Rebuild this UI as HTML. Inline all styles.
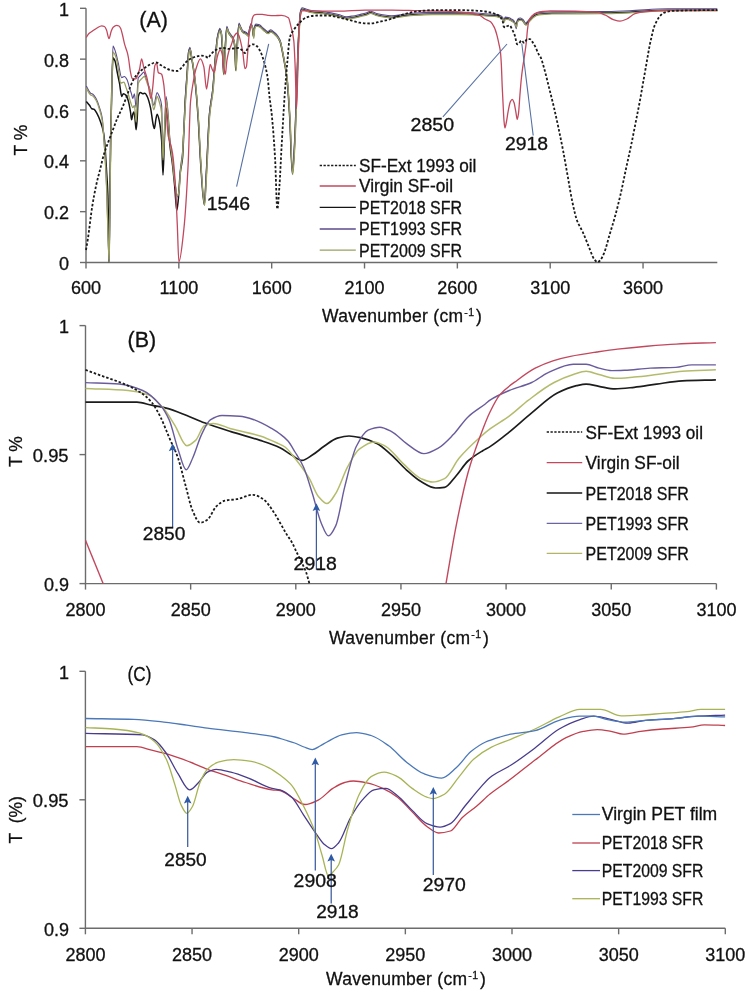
<!DOCTYPE html>
<html><head><meta charset="utf-8"><style>
html,body{margin:0;padding:0;background:#fff;overflow:hidden;}
svg{display:block;will-change:transform;}
text{font-family:"Liberation Sans",sans-serif;stroke:#111;stroke-width:0.3px;}
</style></head><body>
<svg width="749" height="993" viewBox="0 0 749 993" font-family="Liberation Sans, sans-serif">
<rect width="749" height="993" fill="#fff"/>
<path d="M86,8.3 V262.5 H717.3" fill="none" stroke="#6c6c6c" stroke-width="1.4"/>
<path d="M80,8.3 H86" stroke="#6c6c6c" stroke-width="1.4"/>
<path d="M80,59.14 H86" stroke="#6c6c6c" stroke-width="1.4"/>
<path d="M80,109.97999999999999 H86" stroke="#6c6c6c" stroke-width="1.4"/>
<path d="M80,160.82 H86" stroke="#6c6c6c" stroke-width="1.4"/>
<path d="M80,211.66 H86" stroke="#6c6c6c" stroke-width="1.4"/>
<path d="M80,262.5 H86" stroke="#6c6c6c" stroke-width="1.4"/>
<path d="M86.0,262.5 V268.5" stroke="#6c6c6c" stroke-width="1.4"/>
<path d="M178.84,262.5 V268.5" stroke="#6c6c6c" stroke-width="1.4"/>
<path d="M271.68,262.5 V268.5" stroke="#6c6c6c" stroke-width="1.4"/>
<path d="M364.52,262.5 V268.5" stroke="#6c6c6c" stroke-width="1.4"/>
<path d="M457.36,262.5 V268.5" stroke="#6c6c6c" stroke-width="1.4"/>
<path d="M550.2,262.5 V268.5" stroke="#6c6c6c" stroke-width="1.4"/>
<path d="M643.04,262.5 V268.5" stroke="#6c6c6c" stroke-width="1.4"/>
<text x="69" y="15.9" font-size="18" text-anchor="end" fill="#111" >1</text>
<text x="69" y="66.74" font-size="18" text-anchor="end" fill="#111" >0.8</text>
<text x="69" y="117.57999999999998" font-size="18" text-anchor="end" fill="#111" >0.6</text>
<text x="69" y="168.42" font-size="18" text-anchor="end" fill="#111" >0.4</text>
<text x="69" y="219.26" font-size="18" text-anchor="end" fill="#111" >0.2</text>
<text x="69" y="270.1" font-size="18" text-anchor="end" fill="#111" >0</text>
<text x="86.0" y="293.9" font-size="18" text-anchor="middle" fill="#111" >600</text>
<text x="178.84" y="293.9" font-size="18" text-anchor="middle" fill="#111" >1100</text>
<text x="271.68" y="293.9" font-size="18" text-anchor="middle" fill="#111" >1600</text>
<text x="364.52" y="293.9" font-size="18" text-anchor="middle" fill="#111" >2100</text>
<text x="457.36" y="293.9" font-size="18" text-anchor="middle" fill="#111" >2600</text>
<text x="550.2" y="293.9" font-size="18" text-anchor="middle" fill="#111" >3100</text>
<text x="643.04" y="293.9" font-size="18" text-anchor="middle" fill="#111" >3600</text>
<text x="322" y="321.6" font-size="17.5" fill="#111" letter-spacing="0.28">Wavenumber (cm<tspan font-size="10.5" dy="-5.7" dx="0.8" letter-spacing="0.6">-1</tspan><tspan dy="5.7" dx="1.2">)</tspan></text>
<text transform="translate(27.4,155.4) rotate(-90)" font-size="17.5" fill="#111">T %</text>
<text x="139.3" y="27.3" font-size="21.5" text-anchor="start" fill="#111" >(A)</text>
<path d="M86.30,101.50 C87.37,102.77 88.43,103.89 89.50,105.30 C90.27,106.32 91.03,108.40 91.80,108.70 C92.53,108.99 93.27,108.92 94.00,109.20 C95.10,109.61 96.20,112.17 97.30,114.20 C98.40,116.23 99.50,118.87 100.60,122.00 C101.53,124.66 102.47,127.20 103.40,131.90 C103.77,133.75 104.13,136.49 104.50,140.00 C105.17,146.37 105.83,159.07 106.50,170.00 C106.97,177.65 107.43,181.82 107.90,195.00 C108.27,205.35 108.63,262.00 109.00,262.00 C109.27,262.00 109.53,220.33 109.80,200.00 C110.07,179.67 110.33,154.92 110.60,140.00 C111.07,113.90 111.53,93.45 112.00,80.00 C112.33,70.39 112.67,57.70 113.00,57.70 C113.67,57.70 114.33,59.36 115.00,61.00 C115.73,62.81 116.47,68.48 117.20,72.10 C117.97,75.88 118.73,79.08 119.50,83.20 C120.23,87.14 120.97,96.50 121.70,96.50 C122.23,96.50 122.77,93.70 123.30,93.70 C124.23,93.70 125.17,94.47 126.10,95.40 C126.83,96.13 127.57,98.45 128.30,100.90 C129.03,103.35 129.77,107.59 130.50,112.00 C130.87,114.20 131.23,119.80 131.60,119.80 C132.00,119.80 132.40,115.31 132.80,114.20 C133.17,113.18 133.53,112.00 133.90,112.00 C134.27,112.00 134.63,115.84 135.00,118.60 C135.37,121.36 135.73,129.70 136.10,129.70 C136.47,129.70 136.83,123.53 137.20,118.60 C137.57,113.67 137.93,97.82 138.30,96.50 C139.03,93.87 139.77,92.60 140.50,92.60 C141.23,92.60 141.97,93.70 142.70,93.70 C143.43,93.70 144.17,93.20 144.90,93.20 C145.67,93.20 146.43,94.99 147.20,96.50 C148.30,98.66 149.40,102.73 150.50,107.60 C151.43,111.73 152.37,121.69 153.30,125.30 C153.67,126.72 154.03,128.60 154.40,128.60 C154.93,128.60 155.47,121.03 156.00,118.60 C156.40,116.77 156.80,114.20 157.20,114.20 C157.90,114.20 158.60,117.69 159.30,120.90 C160.07,124.41 160.83,130.04 161.60,140.00 C162.07,146.06 162.53,175.00 163.00,175.00 C163.47,175.00 163.93,150.07 164.40,140.00 C164.97,127.77 165.53,108.00 166.10,108.00 C166.73,108.00 167.37,114.55 168.00,120.00 C168.60,125.17 169.20,138.18 169.80,144.10 C170.73,153.31 171.67,157.19 172.60,165.30 C173.30,171.39 174.00,178.91 174.70,186.40 C175.40,193.89 176.10,210.40 176.80,210.40 C177.27,210.40 177.73,204.74 178.20,200.50 C178.90,194.15 179.60,178.39 180.30,172.30 C181.03,165.92 181.77,165.62 182.50,158.20 C182.97,153.48 183.43,139.88 183.90,130.00 C184.30,121.53 184.70,110.45 185.10,103.30 C185.77,91.39 186.43,83.77 187.10,74.30 C187.63,66.73 188.17,54.31 188.70,52.00 C189.10,50.27 189.50,48.80 189.90,48.80 C190.47,48.80 191.03,54.41 191.60,57.70 C192.70,64.09 193.80,70.50 194.90,79.90 C196.00,89.30 197.10,102.86 198.20,118.60 C199.07,131.00 199.93,153.15 200.80,165.30 C201.97,181.66 203.13,204.80 204.30,204.80 C205.00,204.80 205.70,184.10 206.40,172.30 C207.43,154.89 208.47,125.14 209.50,114.20 C210.60,102.55 211.70,100.35 212.80,90.00 C213.57,82.79 214.33,69.53 215.10,61.10 C215.90,52.31 216.70,41.75 217.50,37.70 C218.27,33.82 219.03,29.80 219.80,29.80 C220.27,29.80 220.73,31.18 221.20,33.00 C221.67,34.82 222.13,43.76 222.60,51.70 C222.93,57.37 223.27,74.20 223.60,74.20 C224.07,74.20 224.53,58.50 225.00,51.70 C225.60,42.96 226.20,27.90 226.80,27.90 C227.43,27.90 228.07,31.80 228.70,33.00 C229.47,34.45 230.23,35.22 231.00,36.30 C231.80,37.42 232.60,37.75 233.40,39.60 C233.87,40.68 234.33,42.75 234.80,47.10 C235.10,49.90 235.40,70.40 235.70,70.40 C236.17,70.40 236.63,53.61 237.10,47.10 C237.73,38.26 238.37,24.60 239.00,24.60 C239.60,24.60 240.20,27.18 240.80,28.40 C241.43,29.68 242.07,31.62 242.70,32.10 C243.33,32.58 243.97,32.68 244.60,33.00 C245.20,33.31 245.80,33.58 246.40,34.00 C247.03,34.44 247.67,35.80 248.30,35.80 C248.77,35.80 249.23,31.00 249.70,29.30 C250.17,27.60 250.63,25.10 251.10,25.10 C251.57,25.10 252.03,26.63 252.50,28.40 C252.83,29.67 253.17,36.80 253.50,36.80 C253.80,36.80 254.10,29.44 254.40,28.40 C254.87,26.79 255.33,25.60 255.80,25.60 C256.73,25.60 257.67,25.78 258.60,26.00 C259.23,26.15 259.87,26.56 260.50,27.00 C261.10,27.41 261.70,28.24 262.30,28.80 C263.23,29.67 264.17,30.51 265.10,31.20 C266.03,31.89 266.97,33.00 267.90,33.00 C268.83,33.00 269.77,31.20 270.70,31.20 C271.97,31.20 273.23,32.92 274.50,34.00 C275.43,34.80 276.37,35.62 277.30,36.80 C278.20,37.94 279.10,39.19 280.00,41.40 C280.97,43.77 281.93,49.50 282.90,54.40 C284.27,61.33 285.63,67.03 287.00,78.80 C287.90,86.55 288.80,101.67 289.70,116.90 C290.60,132.13 291.50,174.00 292.40,174.00 C293.13,174.00 293.87,157.24 294.60,144.10 C295.23,132.75 295.87,112.37 296.50,95.20 C297.13,78.03 297.77,52.23 298.40,40.80 C299.13,27.57 299.87,14.69 300.60,12.20 C301.07,10.62 301.53,9.30 302.00,9.30 C303.33,9.30 304.67,10.12 306.00,10.50 C307.90,11.03 309.80,11.70 311.70,12.00 C316.13,12.71 320.57,12.80 325.00,13.40 C329.47,14.01 333.93,14.97 338.40,16.00 C341.07,16.62 343.73,18.20 346.40,18.20 C348.60,18.20 350.80,17.81 353.00,17.50 C355.27,17.18 357.53,16.52 359.80,16.00 C361.87,15.52 363.93,15.12 366.00,14.50 C367.47,14.06 368.93,12.80 370.40,12.80 C372.20,12.80 374.00,14.18 375.80,14.70 C377.57,15.21 379.33,15.69 381.10,16.00 C384.67,16.63 388.23,17.40 391.80,17.40 C395.37,17.40 398.93,16.45 402.50,16.00 C406.07,15.55 409.63,14.94 413.20,14.70 C419.43,14.29 425.67,13.90 431.90,13.90 C440.80,13.90 449.70,13.90 458.60,13.90 C463.33,13.90 468.07,14.04 472.80,14.20 C476.87,14.34 480.93,15.07 485.00,15.30 C488.10,15.48 491.20,15.46 494.30,15.70 C495.87,15.82 497.43,16.20 499.00,16.70 C500.27,17.11 501.53,17.56 502.80,19.00 C503.10,19.34 503.40,21.40 503.70,21.40 C504.17,21.40 504.63,18.60 505.10,18.60 C506.20,18.60 507.30,18.78 508.40,19.00 C509.33,19.19 510.27,19.86 511.20,20.40 C512.13,20.94 513.07,21.64 514.00,22.30 C514.77,22.84 515.53,24.00 516.30,24.00 C516.70,24.00 517.10,21.13 517.50,20.80 C518.50,19.97 519.50,19.50 520.50,19.50 C521.43,19.50 522.37,20.55 523.30,21.40 C524.10,22.13 524.90,24.60 525.70,24.60 C526.47,24.60 527.23,23.11 528.00,22.30 C529.23,21.00 530.47,19.18 531.70,18.10 C533.27,16.73 534.83,15.27 536.40,14.80 C537.97,14.33 539.53,14.06 541.10,13.90 C544.73,13.53 548.37,13.22 552.00,13.20 C568.80,13.12 585.60,13.17 602.40,13.10 C611.47,13.06 620.53,12.56 629.60,12.20 C642.40,11.70 655.20,10.30 668.00,10.30 C684.43,10.30 700.87,10.30 717.30,10.30" fill="none" stroke="#141414" stroke-width="1.5" stroke-linejoin="round"/>
<path d="M86.30,86.00 C87.73,88.40 89.17,92.19 90.60,93.20 C91.37,93.74 92.13,93.78 92.90,94.30 C94.00,95.05 95.10,96.74 96.20,98.70 C97.30,100.66 98.40,104.06 99.50,107.60 C100.43,110.60 101.37,112.76 102.30,118.60 C102.87,122.14 103.43,131.70 104.00,140.00 C104.83,152.21 105.67,165.37 106.50,185.00 C107.07,198.35 107.63,224.44 108.20,240.00 C108.50,248.24 108.80,262.00 109.10,262.00 C109.40,262.00 109.70,221.56 110.00,200.00 C110.27,180.83 110.53,156.22 110.80,140.00 C111.20,115.68 111.60,96.07 112.00,80.00 C112.33,66.61 112.67,46.10 113.00,46.10 C113.87,46.10 114.73,49.62 115.60,52.20 C116.50,54.88 117.40,59.46 118.30,63.20 C119.43,67.90 120.57,77.60 121.70,77.60 C122.60,77.60 123.50,76.50 124.40,76.50 C125.33,76.50 126.27,78.18 127.20,79.90 C127.93,81.25 128.67,85.21 129.40,87.60 C130.13,89.99 130.87,91.84 131.60,94.30 C132.00,95.64 132.40,98.70 132.80,98.70 C133.33,98.70 133.87,93.70 134.40,93.70 C134.97,93.70 135.53,107.60 136.10,107.60 C136.83,107.60 137.57,78.85 138.30,77.60 C138.67,76.98 139.03,76.87 139.40,76.50 C140.13,75.77 140.87,75.03 141.60,74.30 C142.33,73.57 143.07,72.10 143.80,72.10 C144.57,72.10 145.33,76.66 146.10,78.80 C147.20,81.87 148.30,84.02 149.40,87.60 C150.13,89.99 150.87,93.55 151.60,96.50 C152.33,99.45 153.07,105.30 153.80,105.30 C154.90,105.30 156.00,92.60 157.10,92.60 C157.83,92.60 158.57,94.73 159.30,96.50 C160.07,98.35 160.83,99.60 161.60,105.30 C162.07,108.77 162.53,158.00 163.00,158.00 C163.50,158.00 164.00,139.86 164.50,130.00 C165.03,119.48 165.57,96.50 166.10,96.50 C166.73,96.50 167.37,105.38 168.00,112.00 C168.60,118.27 169.20,131.76 169.80,138.00 C170.73,147.71 171.67,151.93 172.60,160.00 C173.30,166.06 174.00,174.75 174.70,180.00 C175.63,186.99 176.57,197.00 177.50,197.00 C178.00,197.00 178.50,193.54 179.00,190.00 C179.50,186.46 180.00,173.25 180.50,168.00 C181.17,161.00 181.83,159.43 182.50,152.00 C182.97,146.80 183.43,136.99 183.90,128.00 C184.30,120.29 184.70,108.89 185.10,101.80 C185.77,89.98 186.43,82.27 187.10,72.80 C187.63,65.23 188.17,52.81 188.70,50.50 C189.10,48.77 189.50,47.30 189.90,47.30 C190.47,47.30 191.03,52.91 191.60,56.20 C192.70,62.59 193.80,69.00 194.90,78.40 C196.00,87.80 197.10,101.36 198.20,117.10 C199.07,129.50 199.93,151.65 200.80,163.80 C201.97,180.16 203.13,203.30 204.30,203.30 C205.00,203.30 205.70,182.60 206.40,170.80 C207.43,153.39 208.47,123.64 209.50,112.70 C210.60,101.05 211.70,98.85 212.80,88.50 C213.57,81.29 214.33,68.03 215.10,59.60 C215.90,50.81 216.70,40.25 217.50,36.20 C218.27,32.32 219.03,28.30 219.80,28.30 C220.27,28.30 220.73,29.68 221.20,31.50 C221.67,33.32 222.13,42.67 222.60,50.20 C222.93,55.58 223.27,70.00 223.60,70.00 C224.07,70.00 224.53,56.59 225.00,50.20 C225.60,41.99 226.20,26.40 226.80,26.40 C227.43,26.40 228.07,30.30 228.70,31.50 C229.47,32.95 230.23,33.72 231.00,34.80 C231.80,35.92 232.60,36.25 233.40,38.10 C233.87,39.18 234.33,41.37 234.80,45.60 C235.10,48.32 235.40,66.00 235.70,66.00 C236.17,66.00 236.63,51.73 237.10,45.60 C237.73,37.28 238.37,23.10 239.00,23.10 C239.60,23.10 240.20,25.68 240.80,26.90 C241.43,28.18 242.07,30.12 242.70,30.60 C243.33,31.08 243.97,31.18 244.60,31.50 C245.20,31.81 245.80,32.08 246.40,32.50 C247.03,32.94 247.67,34.30 248.30,34.30 C248.77,34.30 249.23,29.50 249.70,27.80 C250.17,26.10 250.63,23.60 251.10,23.60 C251.57,23.60 252.03,25.13 252.50,26.90 C252.83,28.17 253.17,35.30 253.50,35.30 C253.80,35.30 254.10,27.94 254.40,26.90 C254.87,25.29 255.33,24.10 255.80,24.10 C256.73,24.10 257.67,24.28 258.60,24.50 C259.23,24.65 259.87,25.06 260.50,25.50 C261.10,25.91 261.70,26.74 262.30,27.30 C263.23,28.17 264.17,29.01 265.10,29.70 C266.03,30.39 266.97,31.50 267.90,31.50 C268.83,31.50 269.77,29.70 270.70,29.70 C271.97,29.70 273.23,31.42 274.50,32.50 C275.43,33.30 276.37,34.12 277.30,35.30 C278.20,36.44 279.10,37.69 280.00,39.90 C280.97,42.27 281.93,48.00 282.90,52.90 C284.27,59.83 285.63,65.53 287.00,77.30 C287.90,85.05 288.80,100.17 289.70,115.40 C290.60,130.63 291.50,172.50 292.40,172.50 C293.13,172.50 293.87,155.74 294.60,142.60 C295.23,131.25 295.87,110.87 296.50,93.70 C297.13,76.53 297.77,50.73 298.40,39.30 C299.13,26.07 299.87,13.19 300.60,10.70 C301.07,9.12 301.53,7.80 302.00,7.80 C303.33,7.80 304.67,8.62 306.00,9.00 C307.90,9.53 309.80,10.20 311.70,10.50 C316.13,11.21 320.57,11.30 325.00,11.90 C329.47,12.51 333.93,13.47 338.40,14.50 C341.07,15.12 343.73,16.70 346.40,16.70 C348.60,16.70 350.80,16.31 353.00,16.00 C355.27,15.68 357.53,15.02 359.80,14.50 C361.87,14.02 363.93,13.62 366.00,13.00 C367.47,12.56 368.93,11.30 370.40,11.30 C372.20,11.30 374.00,12.68 375.80,13.20 C377.57,13.71 379.33,14.19 381.10,14.50 C384.67,15.13 388.23,15.90 391.80,15.90 C395.37,15.90 398.93,14.95 402.50,14.50 C406.07,14.05 409.63,13.44 413.20,13.20 C419.43,12.79 425.67,12.40 431.90,12.40 C440.80,12.40 449.70,12.40 458.60,12.40 C463.33,12.40 468.07,12.54 472.80,12.70 C476.87,12.84 480.93,13.57 485.00,13.80 C488.10,13.98 491.20,13.96 494.30,14.20 C495.87,14.32 497.43,14.70 499.00,15.20 C500.27,15.61 501.53,15.83 502.80,17.50 C503.10,17.90 503.40,22.80 503.70,22.80 C504.17,22.80 504.63,17.10 505.10,17.10 C506.20,17.10 507.30,17.28 508.40,17.50 C509.33,17.69 510.27,18.36 511.20,18.90 C512.13,19.44 513.07,19.72 514.00,20.80 C514.77,21.69 515.53,28.80 516.30,28.80 C516.70,28.80 517.10,19.68 517.50,19.30 C518.50,18.36 519.50,18.00 520.50,18.00 C521.43,18.00 522.37,19.05 523.30,19.90 C524.10,20.63 524.90,23.10 525.70,23.10 C526.47,23.10 527.23,21.61 528.00,20.80 C529.23,19.50 530.47,17.68 531.70,16.60 C533.27,15.23 534.83,13.77 536.40,13.30 C537.97,12.83 539.53,12.56 541.10,12.40 C544.73,12.03 548.37,11.72 552.00,11.70 C568.80,11.62 585.60,11.67 602.40,11.60 C611.47,11.56 620.53,11.06 629.60,10.70 C642.40,10.20 655.20,8.80 668.00,8.80 C684.43,8.80 700.87,8.80 717.30,8.80" fill="none" stroke="#5a4a8c" stroke-width="1.1" stroke-linejoin="round"/>
<path d="M86.30,88.00 C87.73,90.33 89.17,94.07 90.60,95.00 C91.37,95.50 92.13,95.51 92.90,96.00 C94.00,96.70 95.10,98.50 96.20,100.50 C97.30,102.50 98.40,105.87 99.50,109.50 C100.43,112.58 101.37,115.17 102.30,121.00 C102.87,124.54 103.43,132.30 104.00,140.00 C104.83,151.32 105.67,165.37 106.50,185.00 C107.07,198.35 107.63,225.40 108.20,240.00 C108.53,248.59 108.87,262.00 109.20,262.00 C109.47,262.00 109.73,220.33 110.00,200.00 C110.27,179.67 110.53,156.22 110.80,140.00 C111.20,115.68 111.60,94.17 112.00,80.00 C112.33,68.19 112.67,52.20 113.00,52.20 C114.03,52.20 115.07,54.92 116.10,57.70 C116.90,59.85 117.70,65.47 118.50,70.00 C119.20,73.96 119.90,83.20 120.60,83.20 C121.70,83.20 122.80,82.10 123.90,82.10 C124.63,82.10 125.37,85.59 126.10,87.60 C126.83,89.61 127.57,91.91 128.30,94.30 C129.03,96.69 129.77,99.89 130.50,102.00 C131.27,104.20 132.03,107.60 132.80,107.60 C133.33,107.60 133.87,105.30 134.40,105.30 C134.97,105.30 135.53,122.00 136.10,122.00 C136.83,122.00 137.57,85.13 138.30,83.20 C139.40,80.31 140.50,79.91 141.60,78.80 C142.53,77.86 143.47,76.50 144.40,76.50 C145.33,76.50 146.27,80.85 147.20,83.20 C148.30,85.97 149.40,88.07 150.50,92.00 C151.60,95.93 152.70,109.80 153.80,109.80 C154.90,109.80 156.00,96.50 157.10,96.50 C157.83,96.50 158.57,99.59 159.30,102.00 C160.07,104.52 160.83,106.21 161.60,113.10 C162.07,117.29 162.53,160.00 163.00,160.00 C163.50,160.00 164.00,139.68 164.50,130.00 C165.03,119.67 165.57,100.00 166.10,100.00 C166.73,100.00 167.37,108.61 168.00,115.00 C168.60,121.06 169.20,133.85 169.80,140.00 C170.73,149.56 171.67,153.93 172.60,162.00 C173.30,168.06 174.00,177.61 174.70,182.00 C175.73,188.48 176.77,196.00 177.80,196.00 C178.27,196.00 178.73,193.08 179.20,190.00 C179.67,186.92 180.13,174.82 180.60,170.00 C181.23,163.46 181.87,162.16 182.50,155.00 C182.97,149.72 183.43,137.22 183.90,129.00 C184.40,120.19 184.90,111.69 185.40,103.90 C186.07,93.51 186.73,84.37 187.40,74.90 C187.93,67.33 188.47,54.91 189.00,52.60 C189.40,50.87 189.80,49.40 190.20,49.40 C190.77,49.40 191.33,55.01 191.90,58.30 C193.00,64.69 194.10,71.10 195.20,80.50 C196.30,89.90 197.40,103.46 198.50,119.20 C199.37,131.60 200.23,153.75 201.10,165.90 C202.27,182.26 203.43,205.40 204.60,205.40 C205.30,205.40 206.00,184.70 206.70,172.90 C207.73,155.49 208.77,125.74 209.80,114.80 C210.90,103.15 212.00,100.95 213.10,90.60 C213.87,83.39 214.63,70.13 215.40,61.70 C216.20,52.91 217.00,42.35 217.80,38.30 C218.57,34.42 219.33,30.40 220.10,30.40 C220.57,30.40 221.03,31.78 221.50,33.60 C221.97,35.42 222.43,44.36 222.90,52.30 C223.23,57.97 223.57,74.80 223.90,74.80 C224.37,74.80 224.83,59.10 225.30,52.30 C225.90,43.56 226.50,28.50 227.10,28.50 C227.73,28.50 228.37,32.40 229.00,33.60 C229.77,35.05 230.53,35.82 231.30,36.90 C232.10,38.02 232.90,38.35 233.70,40.20 C234.17,41.28 234.63,43.35 235.10,47.70 C235.40,50.50 235.70,71.00 236.00,71.00 C236.47,71.00 236.93,54.21 237.40,47.70 C238.03,38.86 238.67,25.20 239.30,25.20 C239.90,25.20 240.50,27.78 241.10,29.00 C241.73,30.28 242.37,32.22 243.00,32.70 C243.63,33.18 244.27,33.28 244.90,33.60 C245.50,33.91 246.10,34.18 246.70,34.60 C247.33,35.04 247.97,36.40 248.60,36.40 C249.07,36.40 249.53,31.60 250.00,29.90 C250.47,28.20 250.93,25.70 251.40,25.70 C251.87,25.70 252.33,27.18 252.80,29.00 C253.13,30.30 253.47,38.50 253.80,38.50 C254.10,38.50 254.40,30.06 254.70,29.00 C255.17,27.35 255.63,26.20 256.10,26.20 C257.03,26.20 257.97,26.38 258.90,26.60 C259.53,26.75 260.17,27.16 260.80,27.60 C261.40,28.01 262.00,28.84 262.60,29.40 C263.53,30.27 264.47,31.11 265.40,31.80 C266.33,32.49 267.27,33.60 268.20,33.60 C269.13,33.60 270.07,31.80 271.00,31.80 C272.27,31.80 273.53,33.52 274.80,34.60 C275.73,35.40 276.67,36.22 277.60,37.40 C278.50,38.54 279.40,39.79 280.30,42.00 C281.27,44.37 282.23,50.10 283.20,55.00 C284.57,61.93 285.93,67.63 287.30,79.40 C288.20,87.15 289.10,102.27 290.00,117.50 C290.90,132.73 291.80,174.60 292.70,174.60 C293.43,174.60 294.17,157.84 294.90,144.70 C295.53,133.35 296.17,112.97 296.80,95.80 C297.43,78.63 298.07,52.83 298.70,41.40 C299.43,28.17 300.17,15.29 300.90,12.80 C301.37,11.22 301.83,9.90 302.30,9.90 C303.63,9.90 304.97,10.72 306.30,11.10 C308.20,11.63 310.10,12.30 312.00,12.60 C316.43,13.31 320.87,13.40 325.30,14.00 C329.77,14.61 334.23,15.57 338.70,16.60 C341.37,17.22 344.03,18.80 346.70,18.80 C348.90,18.80 351.10,18.41 353.30,18.10 C355.57,17.78 357.83,17.12 360.10,16.60 C362.17,16.12 364.23,15.72 366.30,15.10 C367.77,14.66 369.23,13.40 370.70,13.40 C372.50,13.40 374.30,14.78 376.10,15.30 C377.87,15.81 379.63,16.29 381.40,16.60 C384.97,17.23 388.53,18.00 392.10,18.00 C395.67,18.00 399.23,17.05 402.80,16.60 C406.37,16.15 409.93,15.54 413.50,15.30 C419.73,14.89 425.97,14.50 432.20,14.50 C441.10,14.50 450.00,14.50 458.90,14.50 C463.63,14.50 468.37,14.64 473.10,14.80 C477.17,14.94 481.23,15.67 485.30,15.90 C488.40,16.08 491.50,16.06 494.60,16.30 C496.17,16.42 497.73,16.80 499.30,17.30 C500.57,17.71 501.83,18.10 503.10,19.60 C503.40,19.96 503.70,22.50 504.00,22.50 C504.47,22.50 504.93,19.20 505.40,19.20 C506.50,19.20 507.60,19.38 508.70,19.60 C509.63,19.79 510.57,20.46 511.50,21.00 C512.43,21.54 513.37,21.97 514.30,22.90 C515.07,23.66 515.83,27.00 516.60,27.00 C517.00,27.00 517.40,21.76 517.80,21.40 C518.80,20.50 519.80,20.10 520.80,20.10 C521.73,20.10 522.67,21.15 523.60,22.00 C524.40,22.73 525.20,25.20 526.00,25.20 C526.77,25.20 527.53,23.71 528.30,22.90 C529.53,21.60 530.77,19.78 532.00,18.70 C533.57,17.33 535.13,15.87 536.70,15.40 C538.27,14.93 539.83,14.66 541.40,14.50 C545.03,14.13 548.67,13.82 552.30,13.80 C569.10,13.72 585.90,13.77 602.70,13.70 C611.77,13.66 620.83,13.16 629.90,12.80 C642.70,12.30 655.50,10.90 668.30,10.90 C684.73,10.90 701.17,10.90 717.60,10.90" fill="none" stroke="#9aa060" stroke-width="1.3" stroke-linejoin="round"/>
<path d="M86.30,37.50 C87.03,36.33 87.77,34.76 88.50,34.00 C89.73,32.73 90.97,32.17 92.20,31.30 C93.80,30.17 95.40,28.89 97.00,28.00 C98.57,27.13 100.13,25.80 101.70,25.80 C102.60,25.80 103.50,26.08 104.40,26.50 C105.10,26.82 105.80,28.44 106.50,30.00 C107.33,31.86 108.17,38.70 109.00,38.70 C109.73,38.70 110.47,33.16 111.20,31.30 C111.87,29.61 112.53,27.82 113.20,27.20 C114.33,26.15 115.47,25.30 116.60,25.30 C117.40,25.30 118.20,25.60 119.00,26.00 C119.57,26.29 120.13,27.32 120.70,28.50 C121.30,29.75 121.90,32.65 122.50,35.00 C123.27,38.00 124.03,42.16 124.80,44.90 C125.60,47.76 126.40,49.27 127.20,52.20 C127.57,53.54 127.93,55.09 128.30,57.00 C129.03,60.82 129.77,68.58 130.50,72.10 C131.07,74.82 131.63,78.39 132.20,78.50 C133.37,78.72 134.53,78.80 135.70,78.80 C136.60,78.80 137.50,75.42 138.40,73.00 C138.80,71.93 139.20,70.58 139.60,69.00 C140.27,66.36 140.93,58.80 141.60,58.80 C142.33,58.80 143.07,65.03 143.80,67.70 C144.93,71.83 146.07,73.90 147.20,78.80 C147.93,81.97 148.67,88.42 149.40,92.00 C149.93,94.61 150.47,98.70 151.00,98.70 C151.57,98.70 152.13,92.04 152.70,87.60 C153.43,81.85 154.17,67.19 154.90,65.50 C155.47,64.19 156.03,63.20 156.60,63.20 C157.17,63.20 157.73,71.88 158.30,72.50 C159.40,73.70 160.50,73.17 161.60,74.30 C162.37,75.09 163.13,79.96 163.90,85.40 C164.13,87.06 164.37,90.23 164.60,92.80 C165.20,99.42 165.80,106.70 166.40,113.90 C167.00,121.10 167.60,132.67 168.20,136.00 C168.97,140.25 169.73,140.98 170.50,144.00 C171.17,146.62 171.83,148.86 172.50,153.00 C173.40,158.59 174.30,169.15 175.20,182.00 C175.90,191.99 176.60,209.77 177.30,225.00 C177.83,236.60 178.37,261.90 178.90,261.90 C180.57,261.90 182.23,244.32 183.90,228.80 C185.30,215.76 186.70,192.89 188.10,165.30 C188.90,149.53 189.70,111.31 190.50,102.00 C191.23,93.46 191.97,89.89 192.70,85.40 C193.80,78.67 194.90,72.31 196.00,68.80 C197.47,64.12 198.93,58.80 200.40,58.80 C201.53,58.80 202.67,62.44 203.80,66.60 C204.70,69.91 205.60,89.00 206.50,89.00 C207.07,89.00 207.63,82.49 208.20,78.80 C208.87,74.46 209.53,64.50 210.20,64.50 C210.90,64.50 211.60,68.23 212.30,69.50 C212.93,70.65 213.57,72.30 214.20,72.30 C214.67,72.30 215.13,67.93 215.60,65.70 C216.37,62.03 217.13,56.62 217.90,54.50 C218.70,52.29 219.50,49.90 220.30,49.90 C220.90,49.90 221.50,51.65 222.10,53.60 C222.73,55.65 223.37,65.29 224.00,68.60 C224.47,71.04 224.93,74.20 225.40,74.20 C225.87,74.20 226.33,64.17 226.80,61.10 C227.43,56.94 228.07,53.93 228.70,51.70 C229.63,48.42 230.57,46.94 231.50,44.30 C232.43,41.66 233.37,37.20 234.30,35.80 C235.23,34.40 236.17,33.00 237.10,33.00 C237.73,33.00 238.37,34.46 239.00,35.80 C239.60,37.07 240.20,39.89 240.80,42.40 C241.43,45.05 242.07,48.00 242.70,51.70 C243.47,56.18 244.23,68.60 245.00,68.60 C245.47,68.60 245.93,67.82 246.40,66.70 C246.90,65.50 247.40,55.71 247.90,49.90 C248.37,44.48 248.83,36.13 249.30,33.00 C249.77,29.87 250.23,28.46 250.70,26.50 C251.00,25.24 251.30,24.47 251.60,23.00 C251.83,21.86 252.07,19.26 252.30,18.50 C252.83,16.75 253.37,15.65 253.90,15.30 C254.83,14.70 255.77,14.30 256.70,14.30 C258.57,14.30 260.43,14.30 262.30,14.30 C264.17,14.30 266.03,15.11 267.90,15.30 C269.80,15.49 271.70,15.70 273.60,15.70 C276.27,15.70 278.93,15.30 281.60,15.30 C283.87,15.30 286.13,16.05 288.40,17.70 C289.30,18.35 290.20,23.47 291.10,27.20 C292.00,30.93 292.90,33.12 293.80,40.80 C294.27,44.78 294.73,56.77 295.20,68.00 C295.63,78.43 296.07,108.80 296.50,108.80 C296.97,108.80 297.43,82.11 297.90,68.00 C298.33,54.90 298.77,31.85 299.20,27.20 C300.13,17.20 301.07,11.09 302.00,10.90 C303.33,10.62 304.67,10.50 306.00,10.50 C307.90,10.50 309.80,10.65 311.70,10.70 C320.60,10.93 329.50,11.20 338.40,11.20 C347.30,11.20 356.20,10.10 365.10,10.10 C374.00,10.10 382.90,10.10 391.80,10.10 C400.70,10.10 409.60,10.52 418.50,10.70 C427.40,10.88 436.30,10.93 445.20,11.20 C451.80,11.40 458.40,11.90 465.00,12.50 C467.60,12.74 470.20,13.04 472.80,13.50 C475.20,13.92 477.60,14.52 480.00,15.50 C481.67,16.18 483.33,18.02 485.00,19.00 C486.87,20.09 488.73,20.35 490.60,21.80 C491.83,22.76 493.07,24.88 494.30,27.40 C495.23,29.31 496.17,32.41 497.10,35.80 C497.73,38.10 498.37,41.22 499.00,44.30 C499.47,46.57 499.93,48.06 500.40,51.70 C500.70,54.04 501.00,58.40 501.30,63.60 C501.60,68.80 501.90,79.50 502.20,86.20 C502.50,92.90 502.80,98.56 503.10,104.30 C503.40,110.04 503.70,117.36 504.00,120.70 C504.30,124.04 504.60,127.90 504.90,127.90 C505.37,127.90 505.83,124.68 506.30,122.50 C506.90,119.70 507.50,114.66 508.10,111.60 C508.87,107.69 509.63,103.03 510.40,101.60 C511.00,100.48 511.60,99.40 512.20,99.40 C512.80,99.40 513.40,100.96 514.00,102.50 C514.60,104.04 515.20,108.43 515.80,111.60 C516.27,114.06 516.73,119.30 517.20,119.30 C517.63,119.30 518.07,116.29 518.50,113.40 C518.97,110.28 519.43,101.02 519.90,95.30 C520.37,89.58 520.83,83.54 521.30,79.00 C521.73,74.78 522.17,71.26 522.60,68.10 C523.07,64.70 523.53,62.23 524.00,59.10 C524.43,56.19 524.87,53.16 525.30,50.00 C525.63,47.57 525.97,45.37 526.30,42.40 C526.70,38.83 527.10,32.42 527.50,29.30 C527.97,25.66 528.43,22.21 528.90,20.90 C529.83,18.29 530.77,17.16 531.70,16.20 C533.27,14.59 534.83,13.43 536.40,12.90 C538.57,12.16 540.73,11.78 542.90,11.50 C545.40,11.17 547.90,10.80 550.40,10.80 C565.93,10.80 581.47,11.13 597.00,12.20 C599.70,12.39 602.40,13.85 605.10,15.00 C607.83,16.17 610.57,18.70 613.30,19.60 C615.53,20.34 617.77,21.20 620.00,21.20 C622.27,21.20 624.53,19.97 626.80,19.00 C629.53,17.83 632.27,14.37 635.00,13.60 C638.63,12.57 642.27,12.06 645.90,11.70 C653.27,10.98 660.63,10.30 668.00,10.30 C684.43,10.30 700.87,10.30 717.30,10.30" fill="none" stroke="#c2485e" stroke-width="1.3" stroke-linejoin="round"/>
<path d="M86.00,250.00 C86.67,246.00 87.33,242.38 88.00,238.00 C89.40,228.80 90.80,215.38 92.20,206.60 C93.47,198.66 94.73,191.89 96.00,186.00 C97.43,179.34 98.87,174.33 100.30,168.60 C101.53,163.67 102.77,158.06 104.00,154.00 C105.50,149.06 107.00,145.46 108.50,141.40 C109.57,138.51 110.63,135.80 111.70,133.00 C113.53,128.19 115.37,122.94 117.20,118.60 C119.07,114.18 120.93,110.93 122.80,106.50 C124.63,102.14 126.47,96.56 128.30,92.00 C130.17,87.35 132.03,81.80 133.90,78.80 C135.73,75.86 137.57,73.87 139.40,72.10 C141.23,70.33 143.07,68.97 144.90,67.70 C146.77,66.41 148.63,65.12 150.50,64.30 C152.33,63.49 154.17,62.40 156.00,62.40 C157.50,62.40 159.00,64.14 160.50,65.00 C162.37,66.07 164.23,67.32 166.10,68.20 C167.93,69.06 169.77,70.09 171.60,70.40 C173.47,70.72 175.33,71.00 177.20,71.00 C178.67,71.00 180.13,69.08 181.60,67.70 C183.07,66.32 184.53,63.47 186.00,62.10 C187.50,60.70 189.00,59.58 190.50,58.80 C192.33,57.84 194.17,57.03 196.00,56.60 C197.83,56.17 199.67,55.70 201.50,55.70 C203.00,55.70 204.50,56.11 206.00,56.60 C206.73,56.84 207.47,58.00 208.20,58.00 C208.80,58.00 209.40,56.21 210.00,55.50 C211.57,53.63 213.13,51.84 214.70,50.80 C216.23,49.78 217.77,48.77 219.30,48.50 C220.87,48.22 222.43,48.00 224.00,48.00 C225.57,48.00 227.13,48.90 228.70,48.90 C230.27,48.90 231.83,48.65 233.40,48.50 C234.93,48.35 236.47,48.00 238.00,48.00 C239.27,48.00 240.53,49.05 241.80,49.90 C242.87,50.62 243.93,53.10 245.00,53.10 C245.80,53.10 246.60,50.11 247.40,48.90 C248.33,47.49 249.27,45.68 250.20,45.20 C251.13,44.72 252.07,44.30 253.00,44.30 C254.23,44.30 255.47,45.20 256.70,46.10 C257.97,47.02 259.23,49.26 260.50,51.70 C261.43,53.50 262.37,56.31 263.30,59.20 C264.23,62.09 265.17,65.25 266.10,69.50 C266.70,72.23 267.30,75.22 267.90,79.80 C268.33,83.11 268.77,89.88 269.20,94.00 C270.10,102.57 271.00,107.02 271.90,116.10 C272.97,126.86 274.03,140.63 275.10,158.90 C275.83,171.46 276.57,209.00 277.30,209.00 C278.03,209.00 278.77,195.09 279.50,185.00 C280.17,175.83 280.83,159.91 281.50,148.20 C282.57,129.46 283.63,109.95 284.70,94.80 C285.63,81.55 286.57,70.27 287.50,60.00 C288.23,51.93 288.97,40.72 289.70,38.10 C291.07,33.22 292.43,32.04 293.80,29.90 C295.33,27.49 296.87,25.57 298.40,24.00 C301.07,21.27 303.73,18.21 306.40,17.40 C309.93,16.33 313.47,15.50 317.00,15.50 C320.57,15.50 324.13,15.50 327.70,15.50 C331.27,15.50 334.83,16.67 338.40,17.40 C341.97,18.13 345.53,19.12 349.10,20.00 C352.67,20.88 356.23,22.29 359.80,22.70 C363.33,23.11 366.87,23.50 370.40,23.50 C373.97,23.50 377.53,22.19 381.10,21.40 C384.67,20.61 388.23,19.77 391.80,18.70 C395.37,17.63 398.93,15.70 402.50,14.70 C407.83,13.20 413.17,11.76 418.50,11.20 C423.83,10.64 429.17,10.10 434.50,10.10 C442.53,10.10 450.57,10.10 458.60,10.10 C463.33,10.10 468.07,10.30 472.80,10.50 C476.87,10.67 480.93,11.02 485.00,11.50 C486.87,11.72 488.73,12.08 490.60,12.50 C492.17,12.85 493.73,13.32 495.30,13.90 C496.53,14.36 497.77,14.78 499.00,15.70 C500.27,16.64 501.53,18.31 502.80,21.80 C503.10,22.63 503.40,26.21 503.70,26.50 C504.33,27.11 504.97,27.40 505.60,27.40 C506.20,27.40 506.80,26.17 507.40,26.00 C508.20,25.77 509.00,25.60 509.80,25.60 C510.57,25.60 511.33,27.85 512.10,29.30 C513.03,31.06 513.97,33.12 514.90,35.80 C515.67,38.00 516.43,44.30 517.20,44.30 C517.83,44.30 518.47,43.76 519.10,43.30 C519.87,42.74 520.63,40.50 521.40,40.50 C522.37,40.50 523.33,42.90 524.30,42.90 C525.23,42.90 526.17,39.10 527.10,39.10 C528.03,39.10 528.97,39.10 529.90,39.10 C530.83,39.10 531.77,41.11 532.70,42.40 C533.63,43.69 534.57,45.28 535.50,47.10 C536.43,48.92 537.37,51.88 538.30,53.60 C539.03,54.95 539.77,55.52 540.50,57.00 C541.87,59.75 543.23,65.29 544.60,70.10 C546.17,75.61 547.73,82.35 549.30,88.60 C550.83,94.72 552.37,100.65 553.90,107.20 C555.43,113.75 556.97,120.76 558.50,128.00 C560.07,135.39 561.63,143.02 563.20,151.20 C564.73,159.21 566.27,168.20 567.80,176.70 C569.33,185.20 570.87,195.14 572.40,202.20 C573.97,209.42 575.53,216.50 577.10,220.70 C579.03,225.89 580.97,228.05 582.90,232.30 C584.80,236.48 586.70,241.71 588.60,246.20 C590.53,250.77 592.47,257.17 594.40,259.50 C595.43,260.75 596.47,262.20 597.50,262.20 C598.33,262.20 599.17,261.29 600.00,260.50 C601.37,259.20 602.73,256.26 604.10,253.10 C605.90,248.93 607.70,241.03 609.50,235.00 C611.30,228.97 613.10,223.44 614.90,216.90 C616.73,210.24 618.57,202.97 620.40,195.10 C622.20,187.37 624.00,178.17 625.80,169.80 C627.63,161.27 629.47,153.24 631.30,144.40 C633.10,135.73 634.90,126.37 636.70,117.20 C637.83,111.42 638.97,105.84 640.10,99.70 C641.10,94.28 642.10,88.27 643.10,82.60 C643.93,77.88 644.77,73.25 645.60,68.50 C646.30,64.51 647.00,60.36 647.70,56.40 C648.37,52.63 649.03,48.63 649.70,45.30 C650.37,41.97 651.03,39.04 651.70,36.20 C652.37,33.36 653.03,30.24 653.70,28.20 C654.53,25.65 655.37,23.76 656.20,22.10 C657.20,20.11 658.20,18.35 659.20,17.10 C660.57,15.39 661.93,13.84 663.30,13.10 C664.63,12.38 665.97,11.90 667.30,11.60 C668.30,11.37 669.30,11.19 670.30,11.10 C673.53,10.82 676.77,10.69 680.00,10.60 C692.43,10.26 704.87,10.20 717.30,10.00" fill="none" stroke="#1a1a1a" stroke-width="1.8" stroke-linejoin="round" stroke-dasharray="2.5,1.9"/>
<path d="M236.6,186.6 L268.7,43.9" stroke="#5470a4" stroke-width="1.1"/>
<path d="M442.9,116.9 L507,44" stroke="#5470a4" stroke-width="1.1"/>
<path d="M533.2,135.5 L521.8,43.5" stroke="#5470a4" stroke-width="1.1"/>
<text x="206.8" y="210.1" font-size="18" text-anchor="start" fill="#111"  textLength="43.3" lengthAdjust="spacingAndGlyphs">1546</text>
<text x="410.5" y="130.5" font-size="18" text-anchor="start" fill="#111"  textLength="43.6" lengthAdjust="spacingAndGlyphs">2850</text>
<text x="504.9" y="149.5" font-size="18" text-anchor="start" fill="#111"  textLength="43.0" lengthAdjust="spacingAndGlyphs">2918</text>
<path d="M319.7,165.4 H355.8" stroke="#1a1a1a" stroke-width="1.5" stroke-dasharray="2.3,1.5"/>
<text x="359" y="171.70000000000002" font-size="17.5" text-anchor="start" fill="#111"  textLength="117.4" lengthAdjust="spacingAndGlyphs">SF-Ext 1993 oil</text>
<path d="M319.7,186.0 H355.8" stroke="#c2485e" stroke-width="1.3"/>
<text x="359" y="192.3" font-size="17.5" text-anchor="start" fill="#111"  textLength="94.0" lengthAdjust="spacingAndGlyphs">Virgin SF-oil</text>
<path d="M319.7,207.4 H355.8" stroke="#141414" stroke-width="1.3"/>
<text x="359" y="213.70000000000002" font-size="17.5" text-anchor="start" fill="#111"  textLength="103.1" lengthAdjust="spacingAndGlyphs">PET2018 SFR</text>
<path d="M319.7,229.0 H355.8" stroke="#5a4a8c" stroke-width="1.3"/>
<text x="359" y="235.3" font-size="17.5" text-anchor="start" fill="#111"  textLength="103.1" lengthAdjust="spacingAndGlyphs">PET1993 SFR</text>
<path d="M319.7,250.2 H355.8" stroke="#9aa060" stroke-width="1.3"/>
<text x="359" y="256.5" font-size="17.5" text-anchor="start" fill="#111"  textLength="103.1" lengthAdjust="spacingAndGlyphs">PET2009 SFR</text>
<path d="M85.5,325.6 V583.6 H716.4" fill="none" stroke="#6c6c6c" stroke-width="1.4"/>
<path d="M79.5,325.6 H85.5" stroke="#6c6c6c" stroke-width="1.4"/>
<path d="M79.5,454.6 H85.5" stroke="#6c6c6c" stroke-width="1.4"/>
<path d="M79.5,583.6 H85.5" stroke="#6c6c6c" stroke-width="1.4"/>
<path d="M85.5,583.6 V589.6" stroke="#6c6c6c" stroke-width="1.4"/>
<path d="M190.65,583.6 V589.6" stroke="#6c6c6c" stroke-width="1.4"/>
<path d="M295.8,583.6 V589.6" stroke="#6c6c6c" stroke-width="1.4"/>
<path d="M400.95000000000005,583.6 V589.6" stroke="#6c6c6c" stroke-width="1.4"/>
<path d="M506.1,583.6 V589.6" stroke="#6c6c6c" stroke-width="1.4"/>
<path d="M611.25,583.6 V589.6" stroke="#6c6c6c" stroke-width="1.4"/>
<path d="M716.4000000000001,583.6 V589.6" stroke="#6c6c6c" stroke-width="1.4"/>
<text x="69" y="333.20000000000005" font-size="18" text-anchor="end" fill="#111" >1</text>
<text x="68.6" y="462.20000000000005" font-size="18" text-anchor="end" fill="#111"  textLength="35.8" lengthAdjust="spacingAndGlyphs">0.95</text>
<text x="69" y="591.2" font-size="18" text-anchor="end" fill="#111" >0.9</text>
<text x="85.5" y="616.2" font-size="18" text-anchor="middle" fill="#111" >2800</text>
<text x="190.65" y="616.2" font-size="18" text-anchor="middle" fill="#111" >2850</text>
<text x="295.8" y="616.2" font-size="18" text-anchor="middle" fill="#111" >2900</text>
<text x="400.95000000000005" y="616.2" font-size="18" text-anchor="middle" fill="#111" >2950</text>
<text x="506.1" y="616.2" font-size="18" text-anchor="middle" fill="#111" >3000</text>
<text x="611.25" y="616.2" font-size="18" text-anchor="middle" fill="#111" >3050</text>
<text x="716.4000000000001" y="616.2" font-size="18" text-anchor="middle" fill="#111" >3100</text>
<text x="329" y="643.9" font-size="17.5" fill="#111" letter-spacing="0.28">Wavenumber (cm<tspan font-size="10.5" dy="-5.7" dx="0.8" letter-spacing="0.6">-1</tspan><tspan dy="5.7" dx="1.2">)</tspan></text>
<text transform="translate(22.2,467) rotate(-90)" font-size="17.5" fill="#111">T %</text>
<text x="127.6" y="347.2" font-size="21.5" text-anchor="start" fill="#111" >(B)</text>
<path d="M85.50,402.20 C102.63,402.20 119.77,402.20 136.90,402.20 C141.80,402.20 146.70,404.21 151.60,405.20 C156.47,406.18 161.33,406.88 166.20,408.10 C173.07,409.83 179.93,412.85 186.80,415.50 C192.67,417.76 198.53,420.62 204.40,422.80 C213.23,426.08 222.07,428.81 230.90,431.60 C240.67,434.68 250.43,437.12 260.20,440.40 C266.80,442.61 273.40,444.65 280.00,447.80 C283.90,449.66 287.80,452.90 291.70,455.10 C295.13,457.03 298.57,460.40 302.00,460.40 C305.43,460.40 308.87,457.18 312.30,455.10 C316.23,452.71 320.17,448.97 324.10,446.30 C328.50,443.31 332.90,439.31 337.30,438.10 C341.20,437.03 345.10,436.00 349.00,436.00 C353.40,436.00 357.80,437.14 362.20,438.10 C367.10,439.17 372.00,440.97 376.90,443.40 C381.80,445.83 386.70,450.76 391.60,455.10 C396.50,459.44 401.40,465.44 406.30,469.80 C411.20,474.16 416.10,478.83 421.00,481.60 C425.90,484.37 430.80,488.00 435.70,488.00 C438.63,488.00 441.57,487.76 444.50,487.40 C448.40,486.92 452.30,480.03 456.20,475.70 C460.13,471.34 464.07,464.56 468.00,461.00 C472.90,456.56 477.80,453.72 482.70,450.70 C485.13,449.20 487.57,448.13 490.00,446.60 C496.40,442.57 502.80,437.22 509.20,432.10 C516.70,426.10 524.20,418.99 531.70,412.90 C540.23,405.97 548.77,397.42 557.30,393.10 C563.70,389.86 570.10,387.13 576.50,385.70 C579.70,384.99 582.90,384.10 586.10,384.10 C590.37,384.10 594.63,385.59 598.90,386.30 C604.27,387.19 609.63,388.90 615.00,388.90 C621.40,388.90 627.80,387.97 634.20,387.30 C641.67,386.52 649.13,385.10 656.60,384.10 C665.17,382.96 673.73,381.32 682.30,380.90 C693.50,380.35 704.70,380.23 715.90,379.90" fill="none" stroke="#1c1c1c" stroke-width="1.7" stroke-linejoin="round"/>
<path d="M85.50,388.40 C99.70,389.10 113.90,389.27 128.10,390.50 C134.93,391.09 141.77,392.45 148.60,394.90 C153.50,396.66 158.40,402.54 163.30,408.10 C167.20,412.53 171.10,419.48 175.00,425.70 C178.93,431.97 182.87,445.70 186.80,445.70 C189.73,445.70 192.67,443.00 195.60,440.40 C198.53,437.80 201.47,427.03 204.40,425.70 C207.33,424.37 210.27,423.40 213.20,423.40 C219.10,423.40 225.00,427.08 230.90,428.70 C240.67,431.38 250.43,432.89 260.20,436.00 C266.10,437.88 272.00,440.66 277.90,443.40 C280.27,444.50 282.63,445.37 285.00,447.00 C288.23,449.22 291.47,453.98 294.70,458.00 C299.60,464.10 304.50,470.40 309.40,478.60 C312.33,483.51 315.27,492.73 318.20,496.20 C321.13,499.67 324.07,503.60 327.00,503.60 C329.93,503.60 332.87,497.74 335.80,493.30 C339.73,487.35 343.67,474.00 347.60,466.90 C351.50,459.86 355.40,452.17 359.30,449.20 C364.20,445.46 369.10,441.90 374.00,441.90 C377.90,441.90 381.80,444.24 385.70,446.30 C391.60,449.42 397.50,458.54 403.40,463.90 C409.27,469.23 415.13,476.10 421.00,478.60 C424.90,480.27 428.80,482.10 432.70,482.10 C436.63,482.10 440.57,480.48 444.50,478.60 C449.40,476.26 454.30,463.77 459.20,458.00 C466.03,449.95 472.87,443.66 479.70,437.50 C483.13,434.41 486.57,431.47 490.00,428.90 C496.40,424.10 502.80,420.83 509.20,416.10 C515.63,411.35 522.07,404.96 528.50,400.10 C537.03,393.66 545.57,386.88 554.10,382.50 C560.50,379.22 566.90,376.47 573.30,374.50 C577.57,373.19 581.83,371.30 586.10,371.30 C590.37,371.30 594.63,373.46 598.90,374.50 C604.27,375.80 609.63,378.30 615.00,378.30 C621.40,378.30 627.80,377.54 634.20,377.00 C641.67,376.37 649.13,375.38 656.60,374.50 C665.17,373.49 673.73,371.90 682.30,371.30 C693.50,370.51 704.70,370.23 715.90,369.70" fill="none" stroke="#b4bc6c" stroke-width="1.5" stroke-linejoin="round"/>
<path d="M85.50,382.60 C96.73,383.07 107.97,383.15 119.20,384.00 C127.03,384.59 134.87,387.17 142.70,390.50 C148.60,393.01 154.50,398.40 160.40,405.20 C163.33,408.58 166.27,413.37 169.20,419.90 C172.13,426.43 175.07,440.81 178.00,449.20 C180.73,457.01 183.47,469.80 186.20,469.80 C188.37,469.80 190.53,462.63 192.70,458.00 C195.63,451.73 198.57,440.62 201.50,434.60 C204.43,428.58 207.37,421.76 210.30,419.90 C214.20,417.43 218.10,415.50 222.00,415.50 C227.90,415.50 233.80,415.84 239.70,416.30 C244.60,416.68 249.50,418.31 254.40,419.90 C260.27,421.81 266.13,425.30 272.00,428.70 C274.67,430.25 277.33,431.99 280.00,434.00 C282.67,436.01 285.33,437.98 288.00,441.00 C290.33,443.64 292.67,448.13 295.00,452.00 C297.83,456.70 300.67,460.72 303.50,467.00 C306.43,473.50 309.37,484.05 312.30,493.30 C315.23,502.55 318.17,515.94 321.10,522.70 C323.57,528.39 326.03,535.90 328.50,535.90 C330.93,535.90 333.37,530.70 335.80,525.60 C338.73,519.45 341.67,498.80 344.60,487.40 C348.53,472.12 352.47,454.09 356.40,446.30 C360.30,438.58 364.20,431.73 368.10,430.10 C372.03,428.46 375.97,427.20 379.90,427.20 C383.80,427.20 387.70,429.63 391.60,431.60 C396.50,434.08 401.40,440.09 406.30,443.40 C412.17,447.37 418.03,453.60 423.90,453.60 C428.80,453.60 433.70,450.49 438.60,447.80 C443.50,445.11 448.40,439.64 453.30,434.60 C458.20,429.56 463.10,421.46 468.00,416.90 C473.87,411.44 479.73,408.33 485.60,403.70 C487.07,402.54 488.53,401.06 490.00,400.10 C496.40,395.92 502.80,393.17 509.20,390.50 C516.70,387.37 524.20,385.90 531.70,382.50 C537.03,380.08 542.37,375.26 547.70,372.90 C556.23,369.12 564.77,364.20 573.30,364.20 C577.57,364.20 581.83,364.20 586.10,364.20 C590.37,364.20 594.63,367.09 598.90,368.10 C603.20,369.12 607.50,370.60 611.80,370.60 C616.07,370.60 620.33,370.45 624.60,370.30 C633.13,370.00 641.67,368.45 650.20,368.10 C658.73,367.75 667.27,367.82 675.80,367.40 C681.17,367.14 686.53,364.90 691.90,364.90 C699.90,364.90 707.90,364.90 715.90,364.90" fill="none" stroke="#6a5c9c" stroke-width="1.4" stroke-linejoin="round"/>
<path d="M85.50,540.30 L103.10,583.60" fill="none" stroke="#c2485e" stroke-width="1.4" stroke-linejoin="round"/>
<path d="M446.00,583.60 C449.40,564.27 452.80,542.69 456.20,525.60 C460.13,505.82 464.07,486.86 468.00,472.70 C471.90,458.66 475.80,448.07 479.70,437.50 C483.13,428.19 486.57,419.01 490.00,412.00 C493.33,405.19 496.67,398.47 500.00,394.60 C505.87,387.79 511.73,384.35 517.60,380.00 C523.47,375.65 529.33,371.22 535.20,368.20 C541.10,365.16 547.00,362.65 552.90,360.80 C558.77,358.96 564.63,357.59 570.50,356.40 C579.30,354.62 588.10,353.34 596.90,352.00 C603.77,350.96 610.63,349.90 617.50,349.10 C627.30,347.95 637.10,347.01 646.90,346.20 C656.67,345.39 666.43,344.59 676.20,344.10 C689.43,343.43 702.67,343.10 715.90,342.60" fill="none" stroke="#c2485e" stroke-width="1.4" stroke-linejoin="round"/>
<path d="M85.50,369.90 C90.87,371.87 96.23,373.85 101.60,375.80 C108.47,378.29 115.33,380.32 122.20,383.20 C128.07,385.66 133.93,388.22 139.80,392.00 C143.73,394.54 147.67,397.65 151.60,402.20 C154.53,405.59 157.47,411.18 160.40,416.90 C163.33,422.62 166.27,430.65 169.20,437.50 C172.13,444.35 175.07,449.62 178.00,458.00 C180.43,464.95 182.87,475.74 185.30,484.50 C187.77,493.38 190.23,505.42 192.70,510.90 C195.13,516.31 197.57,522.70 200.00,522.70 C202.47,522.70 204.93,521.25 207.40,519.70 C210.33,517.86 213.27,509.22 216.20,506.50 C219.13,503.78 222.07,501.22 225.00,500.60 C228.90,499.78 232.80,499.83 236.70,499.20 C242.10,498.32 247.50,494.80 252.90,494.80 C256.33,494.80 259.77,497.03 263.20,499.20 C267.10,501.66 271.00,508.11 274.90,513.90 C276.60,516.42 278.30,519.75 280.00,522.70 C282.23,526.58 284.47,530.78 286.70,534.40 C288.37,537.10 290.03,539.08 291.70,542.00 C293.47,545.10 295.23,549.40 297.00,553.00 C298.67,556.39 300.33,559.46 302.00,563.00 C303.33,565.83 304.67,568.36 306.00,572.00 C307.13,575.09 308.27,579.73 309.40,583.60" fill="none" stroke="#1a1a1a" stroke-width="1.8" stroke-linejoin="round" stroke-dasharray="2.5,1.9"/>
<path d="M172.6,527 V448.5" stroke="#3b5c9e" stroke-width="1.25"/>
<path d="M168.79999999999998,451.3 L172.6,443.5 L176.4,451.3 L172.6,449.7 Z" fill="#2f5aa6"/>
<path d="M316.4,569.7 V508.2" stroke="#3b5c9e" stroke-width="1.25"/>
<path d="M312.59999999999997,511.0 L316.4,503.2 L320.2,511.0 L316.4,509.4 Z" fill="#2f5aa6"/>
<text x="142.8" y="539.6" font-size="18" text-anchor="start" fill="#111"  textLength="42.6" lengthAdjust="spacingAndGlyphs">2850</text>
<text x="293.6" y="569.7" font-size="18" text-anchor="start" fill="#111"  textLength="43.3" lengthAdjust="spacingAndGlyphs">2918</text>
<path d="M546.7,432.0 H582.2" stroke="#1a1a1a" stroke-width="1.5" stroke-dasharray="2.3,1.5"/>
<text x="585.6" y="438.8" font-size="17.5" text-anchor="start" fill="#111"  textLength="117.4" lengthAdjust="spacingAndGlyphs">SF-Ext 1993 oil</text>
<path d="M546.7,462.6 H582.2" stroke="#c2485e" stroke-width="1.3"/>
<text x="585.6" y="469.40000000000003" font-size="17.5" text-anchor="start" fill="#111"  textLength="94.0" lengthAdjust="spacingAndGlyphs">Virgin SF-oil</text>
<path d="M546.7,493.0 H582.2" stroke="#141414" stroke-width="1.3"/>
<text x="585.6" y="499.8" font-size="17.5" text-anchor="start" fill="#111"  textLength="103.1" lengthAdjust="spacingAndGlyphs">PET2018 SFR</text>
<path d="M546.7,523.4 H582.2" stroke="#6a64a0" stroke-width="1.3"/>
<text x="585.6" y="530.1999999999999" font-size="17.5" text-anchor="start" fill="#111"  textLength="103.1" lengthAdjust="spacingAndGlyphs">PET1993 SFR</text>
<path d="M546.7,553.3 H582.2" stroke="#b4b468" stroke-width="1.3"/>
<text x="585.6" y="560.0999999999999" font-size="17.5" text-anchor="start" fill="#111"  textLength="103.1" lengthAdjust="spacingAndGlyphs">PET2009 SFR</text>
<path d="M85.4,671.3 V928.3 H725.3" fill="none" stroke="#6c6c6c" stroke-width="1.4"/>
<path d="M79.4,671.3 H85.4" stroke="#6c6c6c" stroke-width="1.4"/>
<path d="M79.4,799.8 H85.4" stroke="#6c6c6c" stroke-width="1.4"/>
<path d="M79.4,928.3 H85.4" stroke="#6c6c6c" stroke-width="1.4"/>
<path d="M85.4,928.3 V934.3" stroke="#6c6c6c" stroke-width="1.4"/>
<path d="M192.05,928.3 V934.3" stroke="#6c6c6c" stroke-width="1.4"/>
<path d="M298.70000000000005,928.3 V934.3" stroke="#6c6c6c" stroke-width="1.4"/>
<path d="M405.35,928.3 V934.3" stroke="#6c6c6c" stroke-width="1.4"/>
<path d="M512.0,928.3 V934.3" stroke="#6c6c6c" stroke-width="1.4"/>
<path d="M618.65,928.3 V934.3" stroke="#6c6c6c" stroke-width="1.4"/>
<path d="M725.3000000000001,928.3 V934.3" stroke="#6c6c6c" stroke-width="1.4"/>
<text x="69" y="678.9" font-size="18" text-anchor="end" fill="#111" >1</text>
<text x="68.6" y="807.4" font-size="18" text-anchor="end" fill="#111"  textLength="35.8" lengthAdjust="spacingAndGlyphs">0.95</text>
<text x="69" y="935.9" font-size="18" text-anchor="end" fill="#111" >0.9</text>
<text x="85.4" y="961.2" font-size="18" text-anchor="middle" fill="#111" >2800</text>
<text x="192.05" y="961.2" font-size="18" text-anchor="middle" fill="#111" >2850</text>
<text x="298.70000000000005" y="961.2" font-size="18" text-anchor="middle" fill="#111" >2900</text>
<text x="405.35" y="961.2" font-size="18" text-anchor="middle" fill="#111" >2950</text>
<text x="512.0" y="961.2" font-size="18" text-anchor="middle" fill="#111" >3000</text>
<text x="618.65" y="961.2" font-size="18" text-anchor="middle" fill="#111" >3050</text>
<text x="725.3000000000001" y="961.2" font-size="18" text-anchor="middle" fill="#111" >3100</text>
<text x="326" y="984.6" font-size="17.5" fill="#111" letter-spacing="0.28">Wavenumber (cm<tspan font-size="10.5" dy="-5.7" dx="0.8" letter-spacing="0.6">-1</tspan><tspan dy="5.7" dx="1.2">)</tspan></text>
<text transform="translate(22,843.4) rotate(-90)" font-size="17.5" fill="#111" xml:space="preserve">T  (%)</text>
<text x="127.6" y="681.2" font-size="21" text-anchor="start" fill="#111"  textLength="23.8" lengthAdjust="spacingAndGlyphs">(C)</text>
<path d="M85.50,746.70 C102.63,746.70 119.77,746.70 136.90,746.70 C141.80,746.70 146.70,749.01 151.60,750.20 C157.47,751.63 163.33,752.88 169.20,754.60 C176.03,756.60 182.87,759.27 189.70,761.90 C195.60,764.17 201.50,767.13 207.40,769.30 C213.27,771.46 219.13,773.08 225.00,775.10 C231.83,777.45 238.67,780.35 245.50,782.50 C254.33,785.28 263.17,788.73 272.00,789.80 C274.67,790.12 277.33,790.11 280.00,790.50 C283.90,791.07 287.80,795.01 291.70,797.20 C296.13,799.69 300.57,804.50 305.00,804.50 C309.40,804.50 313.80,802.15 318.20,800.10 C323.10,797.81 328.00,791.40 332.90,788.40 C336.80,786.01 340.70,783.47 344.60,782.50 C347.53,781.77 350.47,781.00 353.40,781.00 C358.30,781.00 363.20,782.10 368.10,783.10 C373.00,784.10 377.90,786.19 382.80,788.40 C387.70,790.61 392.60,793.53 397.50,797.20 C402.40,800.87 407.30,807.02 412.20,811.90 C417.10,816.78 422.00,823.05 426.90,826.50 C430.80,829.25 434.70,833.00 438.60,833.00 C442.53,833.00 446.47,832.16 450.40,831.00 C454.30,829.85 458.20,821.38 462.10,817.70 C467.00,813.08 471.90,810.16 476.80,806.00 C481.20,802.26 485.60,797.57 490.00,794.00 C496.90,788.41 503.80,784.27 510.70,779.10 C518.80,773.04 526.90,766.20 535.00,760.10 C545.37,752.30 555.73,742.41 566.10,737.60 C571.87,734.92 577.63,732.44 583.40,731.40 C588.00,730.57 592.60,729.70 597.20,729.70 C601.80,729.70 606.40,730.66 611.00,731.40 C615.03,732.05 619.07,734.20 623.10,734.20 C628.30,734.20 633.50,732.39 638.70,731.70 C646.77,730.62 654.83,729.67 662.90,729.00 C672.13,728.24 681.37,728.12 690.60,727.20 C695.20,726.74 699.80,724.80 704.40,724.80 C711.30,724.80 718.20,725.27 725.10,725.50" fill="none" stroke="#c04050" stroke-width="1.3" stroke-linejoin="round"/>
<path d="M85.50,733.40 C104.57,733.90 123.63,733.73 142.70,734.90 C146.63,735.14 150.57,737.48 154.50,739.90 C158.40,742.30 162.30,747.76 166.20,753.10 C170.13,758.49 174.07,767.65 178.00,773.70 C181.90,779.70 185.80,789.80 189.70,789.80 C192.67,789.80 195.63,785.36 198.60,782.50 C201.53,779.67 204.47,773.71 207.40,772.20 C210.33,770.69 213.27,769.30 216.20,769.30 C221.10,769.30 226.00,770.99 230.90,772.20 C236.77,773.65 242.63,775.89 248.50,778.10 C256.33,781.06 264.17,786.57 272.00,788.40 C274.67,789.02 277.33,789.09 280.00,789.80 C283.90,790.83 287.80,793.74 291.70,797.20 C295.63,800.69 299.57,808.91 303.50,814.80 C307.40,820.64 311.30,826.92 315.20,832.40 C318.17,836.57 321.13,841.77 324.10,844.20 C326.53,846.19 328.97,848.60 331.40,848.60 C333.83,848.60 336.27,845.45 338.70,842.70 C342.63,838.25 346.57,824.62 350.50,817.70 C354.40,810.84 358.30,804.41 362.20,800.10 C366.13,795.75 370.07,790.63 374.00,789.80 C377.90,788.98 381.80,788.40 385.70,788.40 C389.63,788.40 393.57,792.72 397.50,795.70 C402.40,799.41 407.30,805.76 412.20,810.40 C417.10,815.04 422.00,821.61 426.90,823.60 C431.30,825.38 435.70,827.10 440.10,827.10 C443.53,827.10 446.97,825.36 450.40,823.60 C455.27,821.10 460.13,811.85 465.00,806.00 C469.90,800.11 474.80,793.91 479.70,788.40 C483.13,784.54 486.57,780.08 490.00,777.40 C496.90,772.01 503.80,769.72 510.70,765.30 C518.80,760.11 526.90,754.05 535.00,748.00 C543.07,741.98 551.13,733.61 559.20,729.00 C566.10,725.06 573.00,721.76 579.90,719.60 C584.50,718.16 589.10,716.20 593.70,716.20 C598.33,716.20 602.97,717.71 607.60,718.60 C614.50,719.92 621.40,723.10 628.30,723.10 C634.07,723.10 639.83,720.83 645.60,720.30 C654.83,719.45 664.07,719.30 673.30,718.60 C681.37,717.99 689.43,716.66 697.50,716.20 C706.70,715.67 715.90,715.47 725.10,715.10" fill="none" stroke="#4a3c8c" stroke-width="1.3" stroke-linejoin="round"/>
<path d="M85.50,727.60 C94.80,728.07 104.10,728.29 113.40,729.00 C122.20,729.67 131.00,730.83 139.80,733.10 C144.70,734.36 149.60,737.31 154.50,741.40 C158.40,744.66 162.30,751.10 166.20,759.00 C169.17,765.01 172.13,776.11 175.10,785.40 C177.03,791.46 178.97,800.53 180.90,804.50 C182.87,808.54 184.83,813.30 186.80,813.30 C188.77,813.30 190.73,809.46 192.70,806.00 C195.13,801.72 197.57,788.09 200.00,782.50 C202.47,776.83 204.93,771.69 207.40,769.30 C211.30,765.52 215.20,762.90 219.10,761.90 C224.00,760.64 228.90,759.60 233.80,759.60 C239.67,759.60 245.53,760.40 251.40,761.30 C257.27,762.20 263.13,764.95 269.00,767.80 C272.67,769.58 276.33,772.33 280.00,775.10 C283.90,778.05 287.80,780.84 291.70,785.40 C295.63,790.00 299.57,798.26 303.50,806.00 C307.40,813.68 311.30,821.74 315.20,832.40 C317.47,838.60 319.73,847.57 322.00,855.00 C324.17,862.10 326.33,876.00 328.50,876.00 C330.00,876.00 331.50,873.56 333.00,872.00 C334.90,870.02 336.80,868.24 338.70,864.70 C341.67,859.17 344.63,839.72 347.60,829.50 C351.50,816.07 355.40,801.99 359.30,794.20 C363.23,786.34 367.17,778.77 371.10,776.60 C375.50,774.17 379.90,772.20 384.30,772.20 C388.70,772.20 393.10,774.54 397.50,776.60 C402.40,778.89 407.30,785.04 412.20,788.40 C417.10,791.76 422.00,795.61 426.90,797.20 C428.83,797.83 430.77,798.60 432.70,798.60 C436.63,798.60 440.57,796.39 444.50,794.20 C449.40,791.47 454.30,782.47 459.20,776.60 C464.10,770.73 469.00,763.25 473.90,759.00 C479.77,753.91 485.63,750.20 491.50,747.20 C497.90,743.92 504.30,741.97 510.70,739.30 C518.80,735.92 526.90,732.72 535.00,729.00 C543.07,725.30 551.13,720.30 559.20,716.90 C566.10,713.99 573.00,709.30 579.90,709.30 C586.80,709.30 593.70,709.30 600.60,709.30 C607.53,709.30 614.47,715.80 621.40,715.80 C627.17,715.80 632.93,715.39 638.70,715.10 C646.77,714.69 654.83,713.97 662.90,713.40 C670.97,712.83 679.03,712.54 687.10,711.70 C691.70,711.22 696.30,709.30 700.90,709.30 C708.97,709.30 717.03,709.30 725.10,709.30" fill="none" stroke="#a8b454" stroke-width="1.3" stroke-linejoin="round"/>
<path d="M85.50,718.50 C101.63,718.77 117.77,718.83 133.90,719.30 C144.67,719.62 155.43,721.08 166.20,722.30 C173.07,723.08 179.93,724.22 186.80,725.20 C193.67,726.18 200.53,727.31 207.40,728.20 C220.10,729.85 232.80,730.94 245.50,732.60 C255.30,733.88 265.10,734.94 274.90,737.00 C278.27,737.71 281.63,738.98 285.00,740.00 C288.23,740.98 291.47,741.84 294.70,743.00 C297.80,744.12 300.90,745.88 304.00,747.00 C306.77,748.00 309.53,749.60 312.30,749.60 C314.87,749.60 317.43,747.32 320.00,746.00 C322.33,744.80 324.67,743.23 327.00,742.00 C331.90,739.41 336.80,736.06 341.70,734.90 C346.60,733.74 351.50,732.60 356.40,732.60 C361.30,732.60 366.20,734.08 371.10,735.50 C376.97,737.21 382.83,741.61 388.70,745.80 C394.57,749.99 400.43,757.36 406.30,761.90 C412.17,766.44 418.03,771.57 423.90,773.70 C429.80,775.84 435.70,778.10 441.60,778.10 C446.47,778.10 451.33,771.99 456.20,767.80 C461.10,763.59 466.00,755.62 470.90,751.60 C475.80,747.58 480.70,744.22 485.60,742.00 C490.40,739.83 495.20,738.42 500.00,737.00 C503.57,735.94 507.13,734.89 510.70,734.20 C518.80,732.64 526.90,732.45 535.00,730.70 C543.07,728.96 551.13,722.47 559.20,720.30 C566.10,718.45 573.00,716.20 579.90,716.20 C584.50,716.20 589.10,716.20 593.70,716.20 C598.33,716.20 602.97,718.75 607.60,719.60 C613.37,720.66 619.13,722.10 624.90,722.10 C631.80,722.10 638.70,720.80 645.60,720.30 C654.83,719.63 664.07,719.30 673.30,718.60 C681.37,717.99 689.43,716.20 697.50,716.20 C706.70,716.20 715.90,716.67 725.10,716.90" fill="none" stroke="#4a78b8" stroke-width="1.3" stroke-linejoin="round"/>
<path d="M187.7,847 V800.7" stroke="#3b5c9e" stroke-width="1.25"/>
<path d="M183.89999999999998,803.5 L187.7,795.7 L191.5,803.5 L187.7,801.9000000000001 Z" fill="#2f5aa6"/>
<path d="M315.3,870.5 V762.5" stroke="#3b5c9e" stroke-width="1.25"/>
<path d="M311.5,765.3 L315.3,757.5 L319.1,765.3 L315.3,763.7 Z" fill="#2f5aa6"/>
<path d="M331.2,903.5 V858.8" stroke="#3b5c9e" stroke-width="1.25"/>
<path d="M327.4,861.5999999999999 L331.2,853.8 L335.0,861.5999999999999 L331.2,860.0 Z" fill="#2f5aa6"/>
<path d="M433.3,875 V791.9" stroke="#3b5c9e" stroke-width="1.25"/>
<path d="M429.5,794.6999999999999 L433.3,786.9 L437.1,794.6999999999999 L433.3,793.1 Z" fill="#2f5aa6"/>
<text x="164.3" y="866.2" font-size="18" text-anchor="start" fill="#111"  textLength="42.4" lengthAdjust="spacingAndGlyphs">2850</text>
<text x="293.6" y="886.8" font-size="18" text-anchor="start" fill="#111"  textLength="43.3" lengthAdjust="spacingAndGlyphs">2908</text>
<text x="316.2" y="917.6" font-size="18" text-anchor="start" fill="#111"  textLength="42.5" lengthAdjust="spacingAndGlyphs">2918</text>
<text x="422.8" y="891.2" font-size="18" text-anchor="start" fill="#111"  textLength="43.1" lengthAdjust="spacingAndGlyphs">2970</text>
<path d="M572.3,814.5 H600" stroke="#4a78b8" stroke-width="1.3"/>
<text x="601.8" y="820.4" font-size="17.5" text-anchor="start" fill="#111"  textLength="115.4" lengthAdjust="spacingAndGlyphs">Virgin PET film</text>
<path d="M572.3,843.0 H600" stroke="#c04050" stroke-width="1.3"/>
<text x="601.8" y="848.9" font-size="17.5" text-anchor="start" fill="#111"  textLength="101.5" lengthAdjust="spacingAndGlyphs">PET2018 SFR</text>
<path d="M572.3,870.6 H600" stroke="#4a3c8c" stroke-width="1.3"/>
<text x="601.8" y="876.5" font-size="17.5" text-anchor="start" fill="#111"  textLength="101.5" lengthAdjust="spacingAndGlyphs">PET2009 SFR</text>
<path d="M572.3,898.7 H600" stroke="#a8b454" stroke-width="1.3"/>
<text x="601.8" y="904.6" font-size="17.5" text-anchor="start" fill="#111"  textLength="101.5" lengthAdjust="spacingAndGlyphs">PET1993 SFR</text>
</svg>
</body></html>
